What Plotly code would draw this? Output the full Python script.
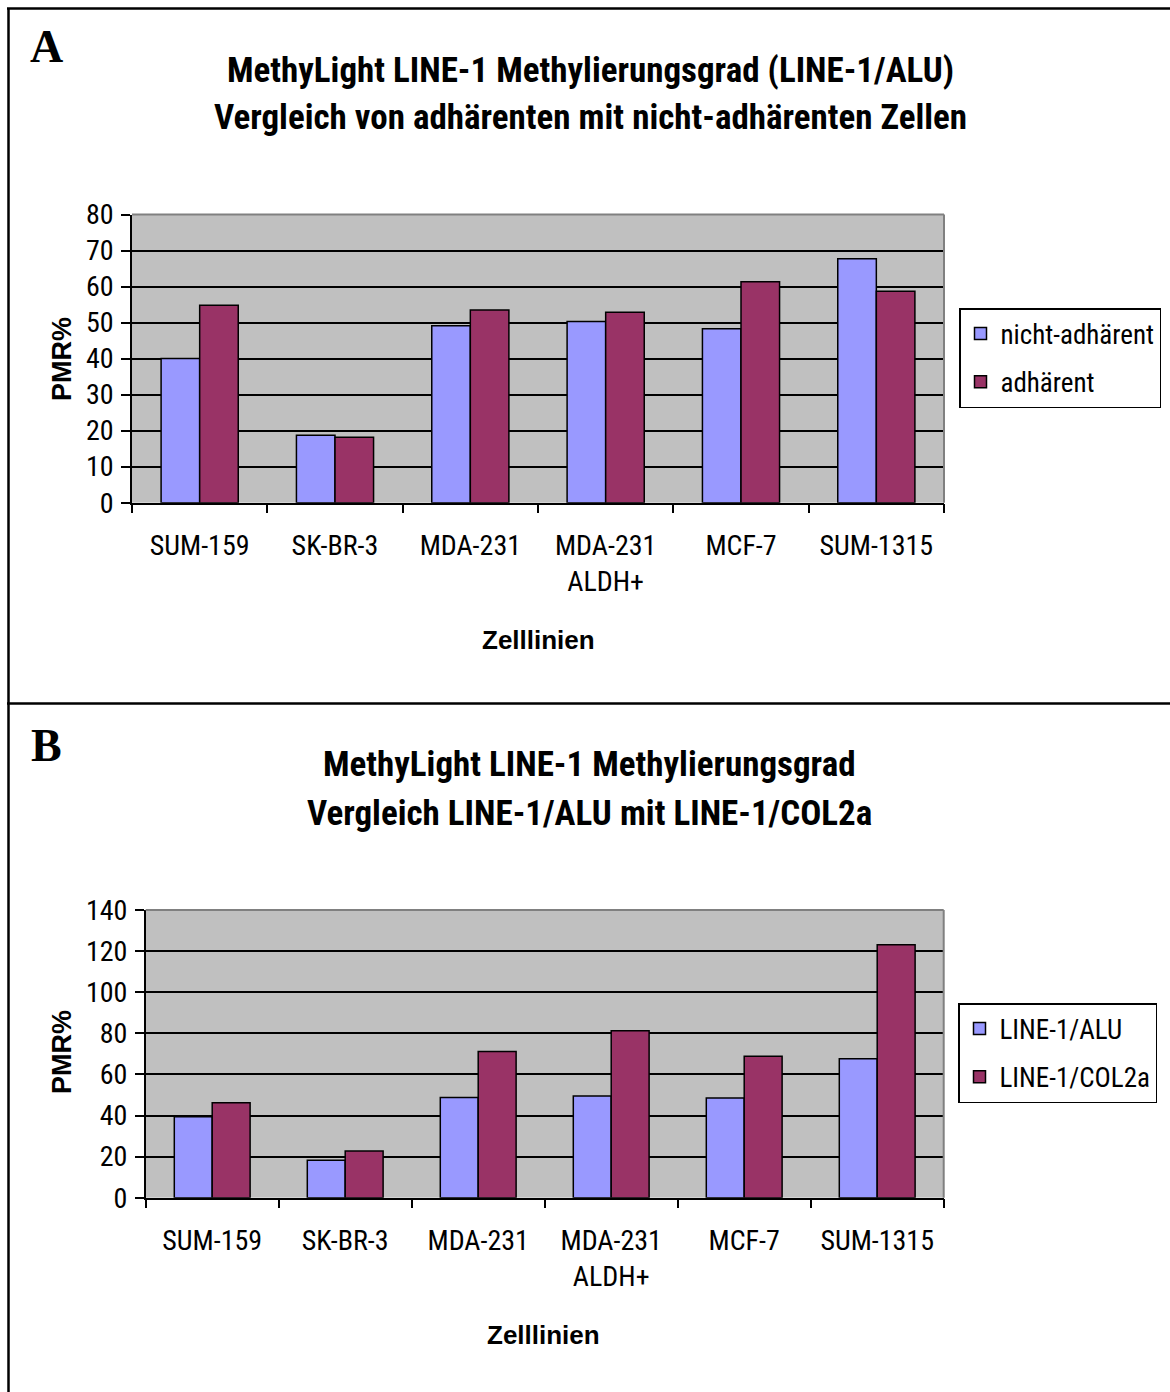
import plotly.graph_objects as go

W, H = 1170, 1392

cells = ["SUM-159", "SK-BR-3", "MDA-231", "MDA-231<br>ALDH+", "MCF-7", "SUM-1315"]

# Panel A
a_nicht_adhaerent = [40.0, 18.7, 49.1, 50.3, 48.3, 67.7]
a_adhaerent = [54.8, 18.2, 53.5, 52.9, 61.3, 58.7]

# Panel B
b_line1_alu = [39.4, 18.2, 48.7, 49.5, 48.5, 67.6]
b_line1_col2a = [46.2, 22.7, 71.2, 81.3, 68.8, 123.1]

title_a = ["MethyLight LINE-1 Methylierungsgrad (LINE-1/ALU)",
           "Vergleich von adhärenten mit nicht-adhärenten Zellen"]
title_b = ["MethyLight LINE-1 Methylierungsgrad",
           "Vergleich LINE-1/ALU mit LINE-1/COL2a"]

BLUE = "#9999FF"
RED = "#993366"
NARROW = "Liberation Sans Narrow, Arial Narrow, Roboto Condensed, sans-serif"
SANS = "Liberation Sans, Arial, sans-serif"
SERIF = "Liberation Serif, Times New Roman, serif"


def px(x):
    return x / W


def py(y):
    return 1 - y / H


fig = go.Figure()
bar_line = dict(color="black", width=1.5)
fig.add_trace(go.Bar(x=cells, y=a_nicht_adhaerent, name="nicht-adhärent",
                     marker=dict(color=BLUE, line=bar_line),
                     xaxis="x", yaxis="y", legend="legend", legendgroup="a1"))
fig.add_trace(go.Bar(x=cells, y=a_adhaerent, name="adhärent",
                     marker=dict(color=RED, line=bar_line),
                     xaxis="x", yaxis="y", legend="legend", legendgroup="a2"))
fig.add_trace(go.Bar(x=cells, y=b_line1_alu, name="LINE-1/ALU",
                     marker=dict(color=BLUE, line=bar_line),
                     xaxis="x2", yaxis="y2", legend="legend2", legendgroup="b1"))
fig.add_trace(go.Bar(x=cells, y=b_line1_col2a, name="LINE-1/COL2a",
                     marker=dict(color=RED, line=bar_line),
                     xaxis="x2", yaxis="y2", legend="legend2", legendgroup="b2"))

tickfont = dict(family=NARROW, size=28, color="black")

xcommon = dict(type="category", range=[-0.5, 5.5], showline=True, linecolor="black",
               linewidth=1.5, ticks="outside", tickson="boundaries", ticklen=9,
               tickwidth=1.5, tickcolor="black", showgrid=False, tickfont=tickfont,
               ticklabelstandoff=17, fixedrange=True, automargin=False)
ycommon = dict(showline=True, linecolor="black", linewidth=1.5, ticks="outside",
               ticklen=9, tickwidth=1.5, tickcolor="black", showgrid=True,
               gridcolor="black", gridwidth=1.5, zeroline=False, tickfont=tickfont,
               ticklabelstandoff=2, fixedrange=True, automargin=False)

legend_common = dict(xanchor="left", yanchor="top", bordercolor="black", borderwidth=1.5,
                     bgcolor="white", font=dict(family=NARROW, size=27, color="black"),
                     tracegroupgap=10)

fig.update_layout(
    template="none",
    width=W, height=H, margin=dict(l=0, r=0, t=0, b=0, pad=0, autoexpand=False),
    paper_bgcolor="white", plot_bgcolor="#C0C0C0",
    barmode="group", bargap=0.43, bargroupgap=0,
    xaxis=dict(domain=[px(132), px(944)], anchor="y", **xcommon),
    yaxis=dict(domain=[py(502.7), py(214.5)], anchor="x", range=[0, 80], dtick=10, **ycommon),
    xaxis2=dict(domain=[px(145.7), px(943.7)], anchor="y2", **xcommon),
    yaxis2=dict(domain=[py(1197.7), py(910)], anchor="x2", range=[0, 140], dtick=20, **ycommon),
    legend=dict(x=px(959), y=py(308), **legend_common),
    legend2=dict(x=px(958), y=py(1003), **legend_common),
    showlegend=True,
)

shapes = []
# panel frames
shapes.append(dict(type="line", xref="paper", yref="paper", x0=px(8.5), x1=px(8.5), y0=py(8.5), y1=py(1392),
                   line=dict(color="black", width=2.5)))
shapes.append(dict(type="line", xref="paper", yref="paper", x0=px(7), x1=1, y0=py(8.5), y1=py(8.5),
                   line=dict(color="black", width=2.5)))
shapes.append(dict(type="line", xref="paper", yref="paper", x0=px(7), x1=1, y0=py(703.5), y1=py(703.5),
                   line=dict(color="black", width=2.5)))
# gray top/right border of plot areas
for xa, ya in (("x", "y"), ("x2", "y2")):
    shapes.append(dict(type="line", xref=f"{xa} domain", yref=f"{ya} domain", x0=0, x1=1, y0=1, y1=1,
                       line=dict(color="#808080", width=2), layer="above"))
    shapes.append(dict(type="line", xref=f"{xa} domain", yref=f"{ya} domain", x0=1, x1=1, y0=0, y1=1,
                       line=dict(color="#808080", width=2), layer="above"))
fig.update_layout(shapes=shapes)

ann = []
title_font = dict(family=NARROW, size=35, color="black")
for text, y in zip(title_a, (70, 117)):
    ann.append(dict(text=f"<b>{text}</b>", x=px(590), y=py(y), xref="paper", yref="paper",
                    showarrow=False, font=title_font, xanchor="center", yanchor="middle"))
for text, y in zip(title_b, (765, 813)):
    ann.append(dict(text=f"<b>{text}</b>", x=px(589), y=py(y), xref="paper", yref="paper",
                    showarrow=False, font=title_font, xanchor="center", yanchor="middle"))
# panel letters
for letter, y in (("A", 46), ("B", 745)):
    ann.append(dict(text=f"<b>{letter}</b>", x=px(46), y=py(y), xref="paper", yref="paper",
                    showarrow=False, font=dict(family=SERIF, size=46, color="black"),
                    xanchor="center", yanchor="middle"))
# axis titles
axis_font = dict(family=SANS, size=27, color="black")
for y in (359, 1052):
    ann.append(dict(text="<b>PMR%</b>", x=px(62), y=py(y), xref="paper", yref="paper",
                    showarrow=False, font=axis_font, textangle=-90,
                    xanchor="center", yanchor="middle"))
for x, y in ((538, 640), (543, 1335)):
    ann.append(dict(text="<b>Zelllinien</b>", x=px(x), y=py(y), xref="paper", yref="paper",
                    showarrow=False, font=dict(family=SANS, size=26, color="black"),
                    xanchor="center", yanchor="middle"))
fig.update_layout(annotations=ann)

fig.write_html("out.html")
